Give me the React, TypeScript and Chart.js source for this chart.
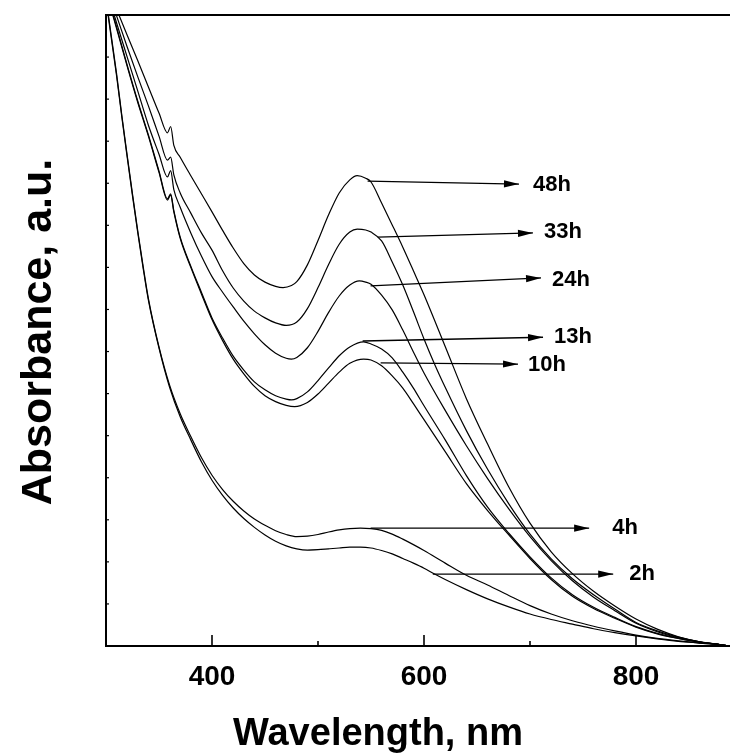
import React, { useEffect, useRef } from "react";
import { Chart, registerables } from "chart.js";

Chart.register(...registerables);

const FONT = '"Liberation Sans", Arial, Helvetica, sans-serif';

// Axis ranges (nm, a.u.)
const xMin = 300;
const xMax = 900;
const xStep = 100;
const xLabelled = [400, 600, 800];
const yMin = 0;
const yMax = 15;

// Spectra: wavelength (nm) and absorbance (a.u.)
const nm48 = [300, 310, 320, 330, 340, 350, 358, 361, 364, 370, 380, 390, 400, 410, 420, 430, 440, 450, 460, 467, 475, 480, 490, 500, 510, 520, 530, 537, 545, 550, 560, 570, 580, 590, 600, 620, 640, 660, 680, 700, 720, 740, 760, 780, 800, 820, 840, 860, 880, 888];
const abs48 = [15.8, 15.14, 14.52, 13.91, 13.29, 12.67, 12.2, 12.35, 11.9, 11.62, 11.18, 10.75, 10.32, 9.88, 9.46, 9.09, 8.82, 8.65, 8.55, 8.52, 8.57, 8.66, 9.06, 9.64, 10.25, 10.77, 11.08, 11.18, 11.12, 11.03, 10.53, 10.01, 9.48, 8.92, 8.35, 7.12, 5.88, 4.8, 3.78, 2.92, 2.24, 1.72, 1.3, 0.95, 0.64, 0.4, 0.22, 0.1, 0.03, 0.0];

const nm33 = [300, 310, 320, 330, 340, 350, 358, 361, 364, 370, 380, 390, 400, 410, 420, 430, 440, 450, 460, 470, 480, 490, 500, 510, 520, 530, 537, 545, 550, 560, 570, 580, 590, 600, 610, 620, 640, 660, 680, 700, 720, 740, 760, 780, 800, 820, 840, 860, 880, 888];
const abs33 = [15.71, 14.98, 14.24, 13.53, 12.84, 12.12, 11.55, 11.62, 11.2, 10.77, 10.29, 9.82, 9.41, 8.92, 8.51, 8.2, 7.96, 7.8, 7.68, 7.62, 7.7, 8.02, 8.52, 9.07, 9.55, 9.84, 9.91, 9.89, 9.84, 9.63, 9.13, 8.58, 7.95, 7.3, 6.7, 6.15, 5.12, 4.2, 3.38, 2.66, 2.07, 1.6, 1.22, 0.88, 0.56, 0.36, 0.21, 0.1, 0.03, 0.0];

const nm24 = [300, 310, 320, 330, 340, 350, 358, 361, 364, 370, 380, 390, 400, 410, 420, 430, 440, 450, 460, 470, 475, 480, 490, 500, 510, 520, 530, 539, 545, 550, 560, 570, 580, 590, 600, 620, 640, 660, 680, 700, 720, 740, 760, 780, 800, 820, 840, 860, 880, 888];
const abs24 = [15.64, 14.81, 14.0, 13.19, 12.38, 11.69, 11.15, 11.3, 10.85, 10.43, 9.82, 9.27, 8.78, 8.41, 8.06, 7.72, 7.42, 7.16, 6.96, 6.84, 6.82, 6.86, 7.09, 7.48, 7.93, 8.32, 8.58, 8.68, 8.65, 8.6, 8.34, 7.99, 7.51, 6.99, 6.49, 5.6, 4.76, 3.98, 3.26, 2.6, 2.03, 1.55, 1.16, 0.84, 0.54, 0.34, 0.2, 0.1, 0.03, 0.0];

const nm13 = [300, 310, 320, 330, 340, 350, 358, 361, 364, 370, 380, 390, 400, 410, 420, 430, 440, 450, 460, 470, 475, 480, 490, 500, 510, 520, 530, 543, 550, 560, 570, 580, 590, 600, 620, 640, 660, 680, 700, 720, 740, 760, 780, 800, 820, 840, 860, 880, 888];
const abs13 = [15.59, 14.71, 13.81, 12.95, 12.15, 11.29, 10.63, 10.75, 10.35, 9.72, 9.03, 8.41, 7.8, 7.32, 6.89, 6.56, 6.28, 6.09, 5.95, 5.87, 5.85, 5.88, 6.04, 6.31, 6.61, 6.9, 7.11, 7.23, 7.18, 7.06, 6.85, 6.51, 6.13, 5.71, 4.9, 4.05, 3.3, 2.68, 2.12, 1.62, 1.22, 0.92, 0.68, 0.46, 0.3, 0.18, 0.09, 0.03, 0.0];

const nm10 = [300, 310, 320, 330, 340, 350, 358, 361, 364, 370, 380, 390, 400, 410, 420, 430, 440, 450, 460, 470, 478, 490, 500, 510, 520, 530, 543, 550, 560, 570, 580, 590, 600, 620, 640, 660, 680, 700, 720, 740, 760, 780, 800, 820, 840, 860, 880, 888];
const abs10 = [15.56, 14.68, 13.78, 12.92, 12.12, 11.26, 10.6, 10.72, 10.32, 9.69, 9.0, 8.37, 7.76, 7.26, 6.82, 6.47, 6.17, 5.95, 5.81, 5.72, 5.69, 5.79, 5.99, 6.25, 6.51, 6.72, 6.82, 6.8, 6.66, 6.42, 6.13, 5.76, 5.38, 4.62, 3.86, 3.22, 2.64, 2.08, 1.58, 1.18, 0.89, 0.66, 0.45, 0.29, 0.18, 0.09, 0.03, 0.0];

const nm4 = [300, 305, 310, 315, 320, 325, 330, 335, 340, 350, 360, 370, 380, 390, 400, 410, 420, 430, 440, 450, 460, 470, 480, 490, 500, 510, 520, 530, 540, 550, 560, 570, 580, 590, 600, 620, 640, 660, 680, 700, 720, 740, 760, 780, 800, 820, 840, 860, 880, 888];
const abs4 = [15.4, 14.5, 13.6, 12.6, 11.66, 10.74, 9.86, 9.03, 8.26, 7.11, 6.2, 5.52, 4.98, 4.48, 4.06, 3.72, 3.44, 3.21, 3.02, 2.87, 2.74, 2.65, 2.6, 2.61, 2.65, 2.71, 2.76, 2.79, 2.8, 2.79, 2.75, 2.66, 2.54, 2.41, 2.27, 1.97, 1.68, 1.45, 1.2, 0.96, 0.76, 0.6, 0.47, 0.36, 0.26, 0.18, 0.12, 0.07, 0.03, 0.0];

const nm2 = [300, 305, 310, 315, 320, 325, 330, 335, 340, 350, 360, 370, 380, 390, 400, 410, 420, 430, 440, 450, 460, 470, 480, 490, 500, 510, 520, 530, 540, 550, 560, 570, 580, 590, 600, 610, 620, 640, 660, 680, 700, 720, 740, 760, 780, 800, 820, 840, 860, 880, 888];
const abs2 = [15.35, 14.45, 13.55, 12.56, 11.62, 10.7, 9.82, 8.99, 8.22, 7.08, 6.15, 5.45, 4.9, 4.38, 3.94, 3.58, 3.28, 3.03, 2.82, 2.64, 2.49, 2.38, 2.31, 2.28, 2.29, 2.31, 2.33, 2.35, 2.35, 2.33, 2.27, 2.19, 2.08, 1.97, 1.85, 1.71, 1.58, 1.34, 1.12, 0.93, 0.76, 0.63, 0.52, 0.41, 0.32, 0.24, 0.17, 0.11, 0.07, 0.03, 0.0];

const curveNames = ["48h", "33h", "24h", "13h", "10h", "4h", "2h"];

// Annotation arrows (nm, a.u.) and their labels
const arrowStartX = [546.8, 556.3, 549.6, 542.1, 559.1, 549.6, 608.3];
const arrowStartY = [11.05, 9.72, 8.56, 7.25, 6.73, 2.8, 1.71];
const arrowEndX = [689.6, 702.8, 710.4, 712.3, 688.7, 755.8, 778.5];
const arrowEndY = [10.98, 9.82, 8.75, 7.34, 6.7, 2.8, 1.71];
const labelX = [702.8, 713.2, 720.8, 722.7, 698.1, 777.5, 793.6];
const labelY = [10.96, 9.84, 8.7, 7.34, 6.68, 2.8, 1.71];

const xTitle = "Wavelength, nm";
const yTitle = "Absorbance, a.u.";

const decor = {
  id: "decor",
  afterDatasetsDraw(chart: any) {
    const { ctx, chartArea: a, scales } = chart;
    const x = scales.x;
    const y = scales.y;
    ctx.save();
    ctx.strokeStyle = "#000";
    ctx.fillStyle = "#000";
    // frame top and right
    ctx.lineWidth = 2;
    ctx.beginPath();
    ctx.moveTo(a.left - 1, a.top);
    ctx.lineTo(a.right, a.top);
    ctx.lineTo(a.right, a.bottom);
    ctx.stroke();
    // inward x ticks
    ctx.lineWidth = 1.6;
    for (let v = xMin + xStep; v < xMax; v += xStep) {
      const px = x.getPixelForValue(v);
      const len = xLabelled.includes(v) ? 11 : 5;
      ctx.beginPath();
      ctx.moveTo(px, a.bottom);
      ctx.lineTo(px, a.bottom - len);
      ctx.stroke();
    }
    // inward y ticks
    ctx.lineWidth = 1.2;
    for (let v = yMin + 1; v < yMax; v++) {
      const py = y.getPixelForValue(v);
      ctx.beginPath();
      ctx.moveTo(a.left, py);
      ctx.lineTo(a.left + 3, py);
      ctx.stroke();
    }
    // arrowheads
    chart.data.datasets.forEach((ds: any, i: number) => {
      if (!ds.isArrow) return;
      const pts = chart.getDatasetMeta(i).data;
      const p0 = pts[0];
      const p1 = pts[pts.length - 1];
      const ang = Math.atan2(p1.y - p0.y, p1.x - p0.x);
      ctx.save();
      ctx.translate(p1.x, p1.y);
      ctx.rotate(ang);
      ctx.beginPath();
      ctx.moveTo(0, 0);
      ctx.lineTo(-15, -3.6);
      ctx.lineTo(-15, 3.6);
      ctx.closePath();
      ctx.fill();
      ctx.restore();
    });
    // arrow labels
    ctx.font = `bold 22px ${FONT}`;
    ctx.textAlign = "left";
    ctx.textBaseline = "middle";
    curveNames.forEach((t, i) => {
      ctx.fillText(t, x.getPixelForValue(labelX[i]), y.getPixelForValue(labelY[i]));
    });
    // axis titles
    ctx.textAlign = "center";
    ctx.font = `bold 38px ${FONT}`;
    ctx.fillText(xTitle, 378, 735);
    ctx.save();
    ctx.translate(39, 332);
    ctx.rotate(-Math.PI / 2);
    ctx.font = `bold 43px ${FONT}`;
    ctx.fillText(yTitle, 0, 0);
    ctx.restore();
    ctx.restore();
  },
};

export default function App() {
  const ref = useRef<HTMLCanvasElement>(null);
  useEffect(() => {
    const canvas = ref.current;
    if (!canvas) return;
    const curves: [number[], number[]][] = [
      [nm48, abs48],
      [nm33, abs33],
      [nm24, abs24],
      [nm13, abs13],
      [nm10, abs10],
      [nm4, abs4],
      [nm2, abs2],
    ];
    const datasets: any[] = curves.map(([xs, ys], i) => ({
      label: curveNames[i],
      data: xs.map((v, j) => ({ x: v, y: ys[j] })),
      borderColor: "#000",
      borderWidth: 1.2,
      pointRadius: 0,
      cubicInterpolationMode: "monotone",
      fill: false,
    }));
    curveNames.forEach((n, i) => {
      datasets.push({
        label: "arrow " + n,
        isArrow: true,
        data: [
          { x: arrowStartX[i], y: arrowStartY[i] },
          { x: arrowEndX[i], y: arrowEndY[i] },
        ],
        borderColor: "#000",
        borderWidth: 1.3,
        pointRadius: 0,
        tension: 0,
        fill: false,
      });
    });
    const chart = new Chart(canvas, {
      type: "line",
      data: { datasets },
      options: {
        animation: false,
        responsive: false,
        maintainAspectRatio: false,
        layout: { padding: { top: 15, right: 18, left: 0, bottom: 0 } },
        plugins: { legend: { display: false }, tooltip: { enabled: false } },
        scales: {
          x: {
            type: "linear",
            min: xMin,
            max: xMax,
            grid: { display: false, drawTicks: false },
            border: { display: true, color: "#000", width: 2 },
            ticks: {
              stepSize: xStep,
              autoSkip: false,
              maxRotation: 0,
              padding: 14,
              color: "#000",
              font: { family: FONT, size: 28, weight: "bold" },
              callback: (v: any) => (xLabelled.includes(Number(v)) ? String(v) : ""),
            },
            afterFit: (s: any) => {
              s.height = 108;
            },
          },
          y: {
            type: "linear",
            min: yMin,
            max: yMax,
            grid: { display: false, drawTicks: false },
            border: { display: true, color: "#000", width: 2 },
            ticks: { display: false, stepSize: 1 },
            afterFit: (s: any) => {
              s.width = 106;
            },
          },
        },
      } as any,
      plugins: [decor],
    });
    return () => chart.destroy();
  }, []);
  return (
    <div style={{ position: "fixed", left: 0, top: 0, width: 730, height: 754, overflow: "hidden", background: "#fff" }}>
      <canvas ref={ref} width={760} height={754} style={{ display: "block" }} />
    </div>
  );
}
